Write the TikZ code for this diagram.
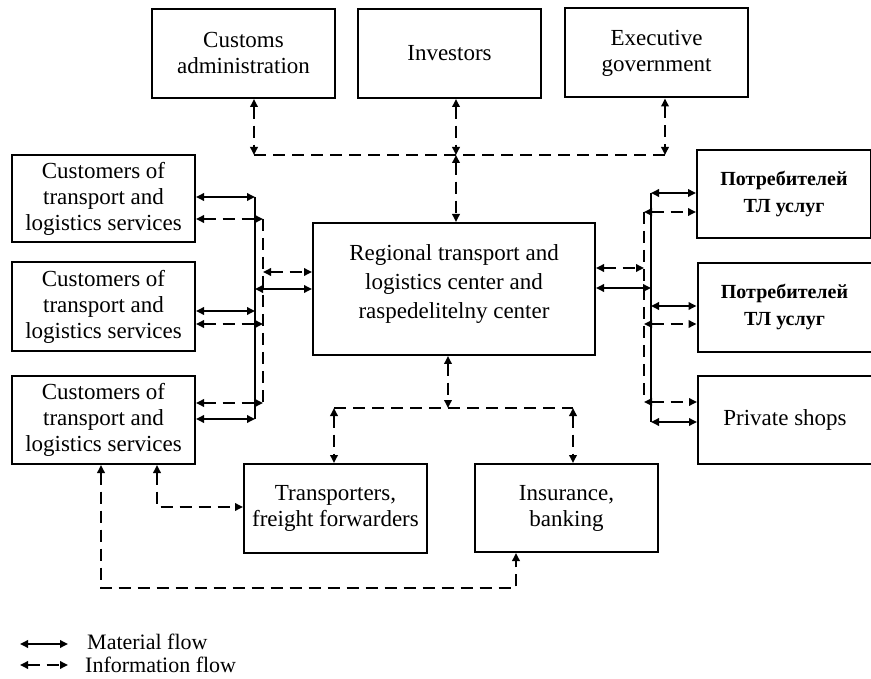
\documentclass[tikz,border=0pt]{standalone}
\usepackage{fontspec}
\setmainfont{Liberation Serif}
\usetikzlibrary{arrows.meta,positioning}

\begin{document}
\begin{tikzpicture}[
  x=1pt,y=-1pt,
  box/.style={draw,line width=2pt,minimum width=183pt,minimum height=88pt,inner sep=0pt,align=center,font=\fontsize{23}{26}\selectfont},
  rbox/.style={box,minimum width=174pt},
  ru/.style={font=\fontsize{20}{27}\selectfont\bfseries},
  mat/.style={line width=1.8pt,{Triangle[length=8pt,width=7.5pt]}-{Triangle[length=8pt,width=7.5pt]}},
  info/.style={mat,dash pattern=on 12pt off 7pt},
  wire/.style={line width=1.8pt},
  dwire/.style={wire,dash pattern=on 12pt off 7pt},
  legend/.style={font=\fontsize{22}{24}\selectfont,anchor=base west,inner sep=0pt}
]
\useasboundingbox (0,0) rectangle (871,679);
% top row
\node[box,minimum height=89pt] (cust) at (243.5,53.5) {Customs\\administration};
\node[box,minimum height=89pt] (inv) at (449.5,53.5) {Investors};
\node[box,minimum height=89pt] (exec) at (656.5,53) {Executive\\government};
% left customers
\node[box,minimum height=87pt] (lc1) at (103.5,198.5) {Customers of\\transport and\\logistics services};
\node[box,minimum height=89pt] (lc2) at (103.5,306.5) {Customers of\\transport and\\logistics services};
\node[box] (lc3) at (103.5,420) {Customers of\\transport and\\logistics services};
% centre
\node[box,minimum width=282pt,minimum height=132pt,text depth=15pt,font=\fontsize{23}{29}\selectfont] (rtlc) at (454,289) {Regional transport and\\logistics center and\\raspedelitelny center};
% right consumers
\node[rbox,ru] (rc1) at (784,194) {Потребителей\\ТЛ услуг};
\node[rbox,ru,minimum height=89pt] (rc2) at (784.5,307.5) {Потребителей\\ТЛ услуг};
\node[rbox] (rc3) at (785,420) {Private shops};
% bottom row
\node[box,minimum height=89pt] (trans) at (335.5,508.5) {Transporters,\\freight forwarders};
\node[box] (ins) at (566.5,508) {Insurance,\\banking};

% junction points
\coordinate (tcu) at (254,155);
\coordinate (tin) at (456,155);
\coordinate (tex) at (665,155);
\coordinate (l1m) at (255,197); \coordinate (l2m) at (255,311);
\coordinate (l3m) at (255,419); \coordinate (lcm) at (255,289);
\coordinate (l1i) at (263,219); \coordinate (l2i) at (263,324);
\coordinate (l3i) at (263,403); \coordinate (lci) at (263,272);
\coordinate (r1m) at (651,193); \coordinate (r2m) at (651,306);
\coordinate (r3m) at (651,422); \coordinate (rcm) at (651,288);
\coordinate (r1i) at (644,212); \coordinate (r2i) at (644,324);
\coordinate (r3i) at (644,402); \coordinate (rci) at (644,268);
\coordinate (bc) at (448,408);
\coordinate (btr) at (334,408);
\coordinate (bin) at (573,408);
\coordinate (ttr) at (157,507);
\coordinate (ia) at (101,588);
\coordinate (ib) at (516,588);

% top links
\draw[info] (cust.south -| tcu) -- (tcu);
\draw[info] (inv.south -| tin) -- (tin);
\draw[info] (exec.south -| tex) -- (tex);
\draw[dwire] (tcu) -- (tex);
\draw[info] (tin) -- (rtlc.north -| tin);

% left links
\draw[wire] (l1m) -- (l3m);
\draw[dwire] (l1i) -- (l3i);
\draw[mat] (lc1.east |- l1m) -- (l1m);
\draw[info] (lc1.east |- l1i) -- (l1i);
\draw[mat] (lc2.east |- l2m) -- (l2m);
\draw[info] (lc2.east |- l2i) -- (l2i);
\draw[info] (lc3.east |- l3i) -- (l3i);
\draw[mat] (lc3.east |- l3m) -- (l3m);
\draw[info] (lci) -- (rtlc.west |- lci);
\draw[mat] (lcm) -- (rtlc.west |- lcm);

% right links
\draw[wire] (r1m) -- (r3m);
\draw[dwire] (r1i) -- (r3i);
\draw[info] (rtlc.east |- rci) -- (rci);
\draw[mat] (rtlc.east |- rcm) -- (rcm);
\draw[mat] (r1m) -- (rc1.west |- r1m);
\draw[info] (r1i) -- (rc1.west |- r1i);
\draw[mat] (r2m) -- (rc2.west |- r2m);
\draw[info] (r2i) -- (rc2.west |- r2i);
\draw[info] (r3i) -- (rc3.west |- r3i);
\draw[mat] (r3m) -- (rc3.west |- r3m);

% bottom links
\draw[info] (rtlc.south -| bc) -- (bc);
\draw[dwire] (btr) -- (bin);
\draw[info] (btr) -- (trans.north -| btr);
\draw[info] (bin) -- (ins.north -| bin);
\draw[info] (lc3.south -| ttr) |- (trans.west |- ttr);
\draw[info] (lc3.south -| ia) -- (ia) -- (ib) -- (ins.south -| ib);

% legend
\node[legend] (matlbl) at (87,649) {Material flow};
\node[legend] (inflbl) at (85,672) {Information flow};
\coordinate (matst) at (20,644);
\coordinate (infst) at (20,665);
\draw[mat] (matst) -- (matst -| 68,0);
\draw[info] (infst) -- (infst -| 68,0);
\end{tikzpicture}
\end{document}
